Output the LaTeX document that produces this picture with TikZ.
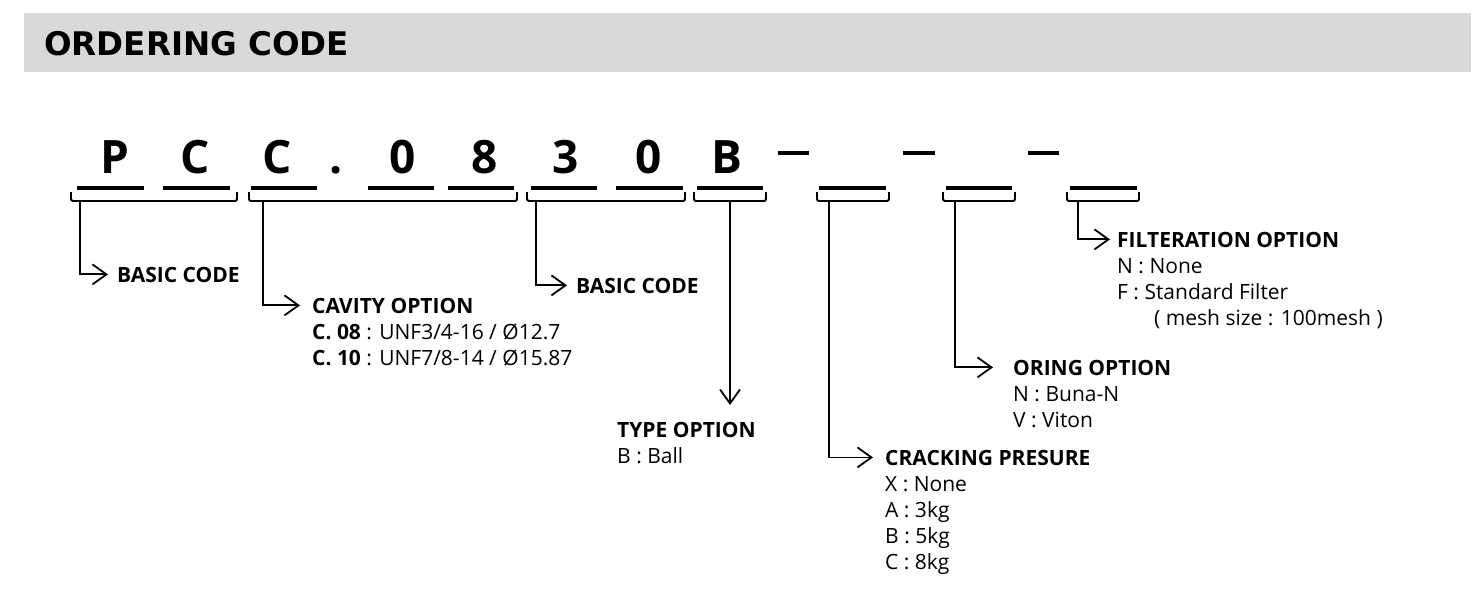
\documentclass[tikz,border=0pt]{standalone}
\usepackage{fontspec}
\setmainfont{Open Sans}
\newfontfamily\hdfont{DejaVu Sans}
\usetikzlibrary{arrows.meta}
\definecolor{band}{HTML}{D9D9D9}
\begin{document}
\begin{tikzpicture}[x=1pt,y=-1pt,
  bar/.style={line width=3.6pt},
  brk/.style={line width=1.8pt, rounded corners=1.5pt},
  lead/.style={line width=1.8pt, -{Straight Barb[length=14pt,width=20pt,line width=1.8pt]}},
  big/.style={font=\fontsize{46}{46}\selectfont\bfseries, anchor=base, inner sep=0pt},
  hdr/.style={anchor=base west, inner sep=0pt, text depth=0pt, font=\fontsize{21}{24}\selectfont\bfseries},
  itm/.style={anchor=base west, inner sep=0pt, font=\fontsize{21}{24}\selectfont},
]
\useasboundingbox (0,0) rectangle (1477,598);
\fill[band] (24,13) rectangle (1471,72);
\node[anchor=base west, inner sep=0pt, font=\hdfont\fontsize{32.5}{33}\selectfont\bfseries] (title) at (44,55) {ORDERING CODE};

% code letters
\node[big] (cP) at (115,173) {P};
\node[big] (cC1) at (195,173) {C};
\node[big] (cC2) at (277,173) {C};
\node[big] (cdot) at (336,173) {.};
\node[big] (c0a) at (403,173) {0};
\node[big] (c8) at (485,173) {8};
\node[big] (c3) at (566,173) {3};
\node[big] (c0b) at (649,173) {0};
\node[big] (cB) at (727,173) {B};

% dashes
\draw[bar] (778,153) -- (809,153);
\draw[bar] (903,153) -- (935,153);
\draw[bar] (1028,153) -- (1059,153);

% underline bars
\foreach \a/\b in {77/144,163/230,251/317,368/434,448/514,531/597,616/683,697/763,819/886,946/1012,1070/1137}
  \draw[bar] (\a,188) -- (\b,188);

% brackets
\foreach \a/\b in {71/237,249/517,527/685,694/766,817/889,943/1015,1067/1139}
  \draw[brk] (\a,192) -- (\a,201) -- (\b,201) -- (\b,192);

% stem start coordinates
\coordinate (s1) at (80,201);
\coordinate (s2) at (263,201);
\coordinate (s3) at (536,201);
\coordinate (s4) at (730,201);
\coordinate (s5) at (829,201);
\coordinate (s6) at (955,201);
\coordinate (s7) at (1078,201);

% labels
\node[hdr] (h1) at (117,282) {BASIC CODE};

\node[hdr] (h2) at (312,313) {CAVITY OPTION};
\node[itm] (h2a) at (312,339) {\textbf{C. 08} : UNF3/4-16 / Ø12.7};
\node[itm] (h2b) at (312,365) {\textbf{C. 10} : UNF7/8-14 / Ø15.87};

\node[hdr] (h3) at (576,293) {BASIC CODE};

\node[hdr] (h4) at (617,437) {TYPE OPTION};
\node[itm] (h4a) at (617,463) {B : Ball};
\coordinate (t4) at (730,405);

\node[hdr] (h5) at (885,465) {CRACKING PRESURE};
\node[itm] (h5a) at (885,491) {X : None};
\node[itm] (h5b) at (885,517) {A : 3kg};
\node[itm] (h5c) at (885,543) {B : 5kg};
\node[itm] (h5d) at (885,569) {C : 8kg};

\node[hdr] (h6) at (1013,375) {ORING OPTION};
\node[itm] (h6a) at (1013,401) {N : Buna-N};
\node[itm] (h6b) at (1013,427) {V : Viton};

\node[hdr] (h7) at (1117,247) {FILTERATION OPTION};
\node[itm] (h7a) at (1117,273) {N : None};
\node[itm] (h7b) at (1117,299) {F : Standard Filter};
\node[itm] (h7c) at (1154,325) {( mesh size : 100mesh )};

% leaders
\draw[lead] (s1) |- ([xshift=-9pt]h1.west);
\draw[lead] (s2) |- ([xshift=-12pt]h2.west);
\draw[lead] (s3) |- ([xshift=-9pt]h3.west);
\draw[lead] (s4) -- (t4);
\draw[lead] (s5) |- ([xshift=-12pt]h5.west);
\draw[lead] (s6) |- ([xshift=-20pt]h6.west);
\draw[lead] (s7) |- ([xshift=-7pt]h7.west);
\end{tikzpicture}
\end{document}
